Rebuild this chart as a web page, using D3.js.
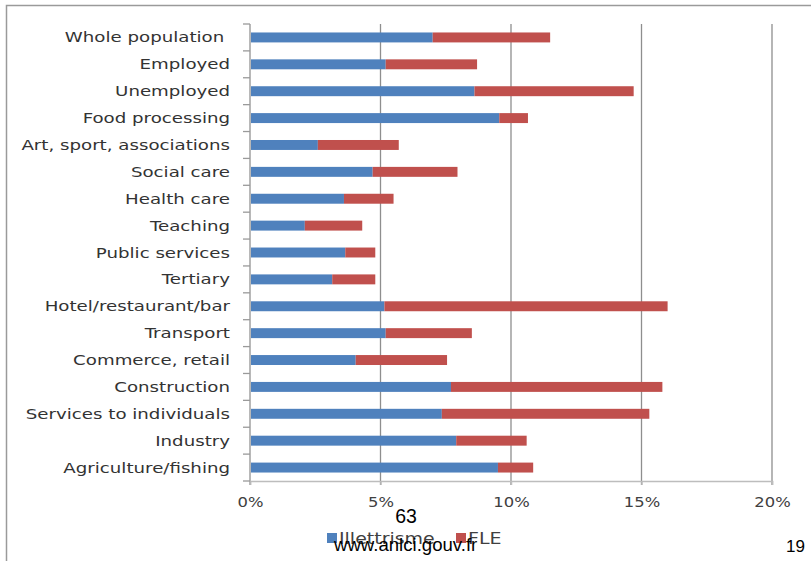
<!DOCTYPE html>
<html>
<head>
<meta charset="utf-8">
<script src="https://cdn.jsdelivr.net/npm/d3@7"></script>
<style>
  html, body { margin: 0; padding: 0; background: #fff; }
  svg { display: block; }
  text { white-space: pre; }
</style>
</head>
<body>
<svg id="chart" width="811" height="561"></svg>
<script>
// Share of adults with literacy difficulties, by population group / sector
const categories = [
  "Whole population ", "Employed", "Unemployed", "Food processing",
  "Art, sport, associations", "Social care", "Health care", "Teaching",
  "Public services", "Tertiary", "Hotel/restaurant/bar", "Transport",
  "Commerce, retail", "Construction", "Services to individuals",
  "Industry", "Agriculture/fishing"
];
// Illettrisme (%)
const illettrisme = [7.0, 5.2, 8.6, 9.55, 2.6, 4.7, 3.6, 2.1, 3.65, 3.15, 5.15, 5.2, 4.05, 7.7, 7.35, 7.9, 9.5];
// FLE (%)
const fle = [4.5, 3.5, 6.1, 1.1, 3.1, 3.25, 1.9, 2.2, 1.15, 1.65, 10.85, 3.3, 3.5, 8.1, 7.95, 2.7, 1.35];
const xTicks = [0, 5, 10, 15, 20];
const seriesNames = ["Illettrisme", "FLE"];
const seriesColors = ["#4f81bd", "#c0504d"];

const svg = d3.select("#chart");

// slide frame
svg.append("path")
  .attr("d", "M6.5,561 V5.5 H811")
  .attr("fill", "none")
  .attr("stroke", "#9a9a9a")
  .attr("stroke-width", 1.5);

const margin = { left: 250, right: 39, top: 24, bottom: 80 };
const W = 811, H = 561;
const textFont = "DejaVu Sans";

const x = d3.scaleLinear().domain([0, 20]).range([margin.left, W - margin.right]);
const y = d3.scaleBand().domain(categories).range([margin.top, H - margin.bottom]).paddingInner(0.63).paddingOuter(0.315);

const rows = categories.map((c, i) => ({ cat: c, vals: [illettrisme[i], fle[i]] }));
const stack = d3.stack().keys([0, 1]).value((d, k) => d.vals[k])(rows);

// vertical gridlines
svg.append("g")
  .selectAll("line")
  .data(xTicks.slice(1))
  .join("line")
  .attr("x1", d => x(d)).attr("x2", d => x(d))
  .attr("y1", margin.top).attr("y2", H - margin.bottom + 4)
  .attr("stroke", "#8e8e8e")
  .attr("stroke-width", 1.3);

// bars
const gBars = svg.append("g");
stack.forEach((layer, k) => {
  gBars.append("g")
    .attr("fill", seriesColors[k])
    .selectAll("rect")
    .data(layer)
    .join("rect")
    .attr("x", d => x(d[0]))
    .attr("width", d => x(d[1]) - x(d[0]))
    .attr("y", d => y(d.data.cat))
    .attr("height", y.bandwidth());
});

// bottom axis
const xAxis = svg.append("g")
  .attr("transform", `translate(0,${H - margin.bottom})`)
  .call(d3.axisBottom(x).tickValues(xTicks).tickFormat(d => d + "%").tickSize(4).tickPadding(12));
xAxis.select(".domain").attr("stroke", "#bdbdbd").attr("stroke-width", 1.5);
xAxis.selectAll(".tick line").attr("stroke", "#bdbdbd").attr("stroke-width", 1.5);
xAxis.selectAll(".tick text")
  .attr("font-family", textFont)
  .attr("font-size", 14)
  .attr("fill", "#404040")
  .attr("transform", "scale(1.17,1)");

// left category axis with ticks between bands
const yAxisG = svg.append("g");
yAxisG.append("line")
  .attr("x1", margin.left).attr("x2", margin.left)
  .attr("y1", margin.top).attr("y2", H - margin.bottom + 4)
  .attr("stroke", "#b8b8b8").attr("stroke-width", 2);
const step = y.step();
yAxisG.selectAll("line.tk")
  .data(d3.range(categories.length + 1))
  .join("line")
  .attr("class", "tk")
  .attr("x1", margin.left - 7).attr("x2", margin.left)
  .attr("y1", i => margin.top + i * step).attr("y2", i => margin.top + i * step)
  .attr("stroke", "#9a9a9a").attr("stroke-width", 1.3);

yAxisG.selectAll("text")
  .data(categories)
  .join("text")
  .attr("x", 0).attr("y", 0)
  .attr("transform", d => `translate(${margin.left - 20},${y(d) + y.bandwidth() / 2}) scale(1.3,1)`)
  .attr("dy", "0.36em")
  .attr("text-anchor", "end")
  .attr("font-family", textFont)
  .attr("font-size", 14)
  .attr("fill", "#333")
  .text(d => d);

// legend
const legend = svg.append("g").attr("transform", "translate(327,533)");
const legendX = [0, 129];
seriesNames.forEach((name, k) => {
  const g = legend.append("g").attr("transform", `translate(${legendX[k]},0)`);
  g.append("rect").attr("width", 10).attr("height", 10).attr("fill", seriesColors[k]);
  g.append("text").attr("x", 0).attr("y", 0)
    .attr("transform", "translate(12,10.5) scale(1.15,1)")
    .attr("font-family", textFont).attr("font-size", 16.5).attr("fill", "#404040")
    .text(name);
});

// slide overlay texts
svg.append("text").attr("x", 406).attr("y", 523).attr("text-anchor", "middle")
  .attr("font-family", "Liberation Sans").attr("font-size", 19.5).attr("fill", "#000").text("63");
svg.append("text").attr("x", 334).attr("y", 551)
  .attr("font-family", "Liberation Sans").attr("font-size", 18.6).attr("fill", "#000").text("www.anlci.gouv.fr");
svg.append("text").attr("x", 805).attr("y", 552).attr("text-anchor", "end")
  .attr("font-family", "Liberation Sans").attr("font-size", 17).attr("fill", "#000").text("19");
</script>
</body>
</html>
